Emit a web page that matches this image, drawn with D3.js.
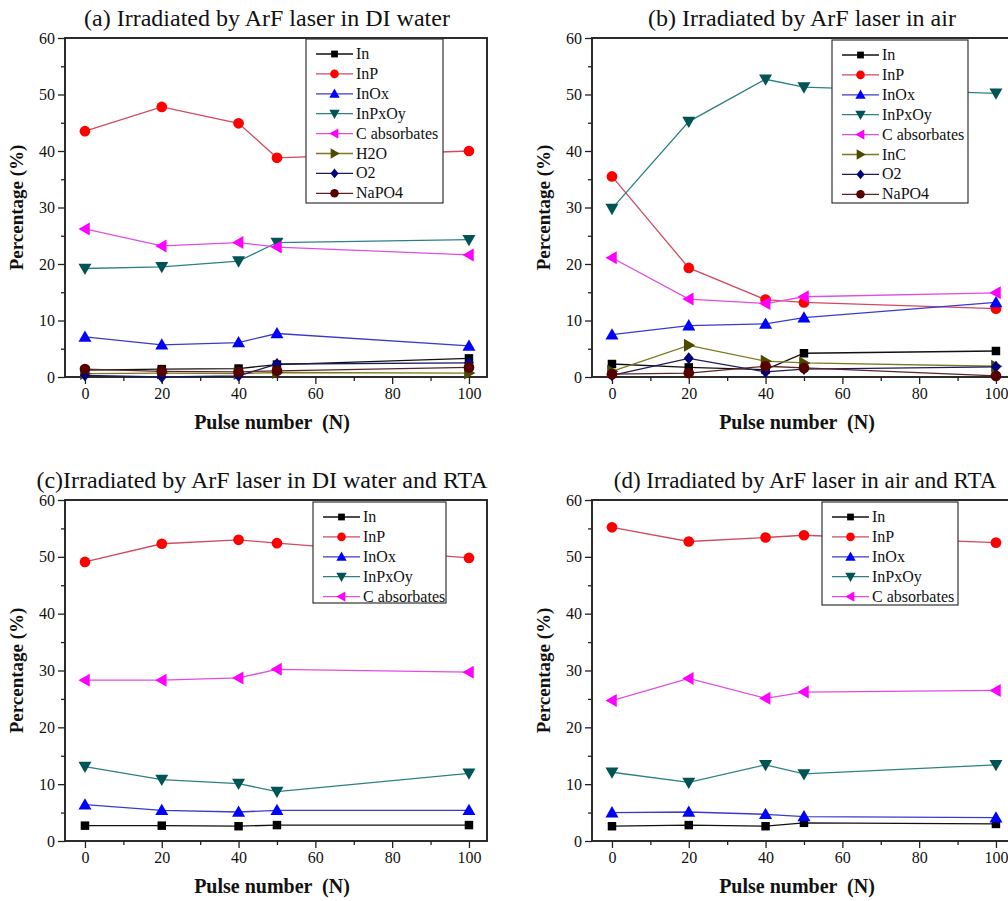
<!DOCTYPE html>
<html>
<head>
<meta charset="utf-8">
<script src="https://cdn.jsdelivr.net/npm/d3@7"></script>
<style>
  html, body { margin: 0; padding: 0; background: #fff; }
  svg text { font-family: 'Liberation Serif', 'Times New Roman', Times, serif; }
</style>
</head>
<body>
<svg id="chart" width="1008" height="901"></svg>
<script>
// Pulse numbers shared by all four panels
const pulses = [0, 20, 40, 50, 100];
const xTickValues = [0, 20, 40, 60, 80, 100];
const yTickValues = [0, 10, 20, 30, 40, 50, 60];

// (a) ArF laser in DI water
const aIn     = [1.2, 1.4, 1.5, 2.2, 3.3];
const aInP    = [43.5, 47.8, 44.9, 38.8, 40.0];
const aInOx   = [7.1, 5.7, 6.1, 7.7, 5.5];
const aInPxOy = [19.2, 19.5, 20.5, 23.8, 24.3];
const aCabs   = [26.2, 23.2, 23.8, 23.0, 21.6];
const aH2O    = [0.6, 0.7, 0.6, 0.8, 0.7];
const aO2     = [0.3, 0.0, 0.2, 2.3, 2.5];
const aNaPO4  = [1.4, 1.0, 0.9, 1.1, 1.7];

// (b) ArF laser in air
const bIn     = [2.3, 1.7, 1.3, 4.2, 4.6];
const bInP    = [35.5, 19.3, 13.7, 13.2, 12.1];
const bInOx   = [7.5, 9.1, 9.4, 10.5, 13.2];
const bInPxOy = [29.8, 45.2, 52.7, 51.3, 50.2];
const bCabs   = [21.1, 13.8, 13.0, 14.2, 14.9];
const bInC    = [1.0, 5.6, 2.8, 2.5, 1.9];
const bO2     = [0.3, 3.3, 0.9, 1.4, 1.8];
const bNaPO4  = [0.5, 0.7, 1.9, 1.6, 0.2];

// (c) ArF laser in DI water, then RTA
const cIn     = [2.7, 2.7, 2.6, 2.8, 2.8];
const cInP    = [49.1, 52.3, 53.0, 52.4, 49.8];
const cInOx   = [6.4, 5.4, 5.1, 5.4, 5.4];
const cInPxOy = [13.1, 10.8, 10.1, 8.7, 11.9];
const cCabs   = [28.3, 28.3, 28.7, 30.2, 29.7];

// (d) ArF laser in air, then RTA
const dIn     = [2.6, 2.8, 2.6, 3.2, 3.0];
const dInP    = [55.2, 52.7, 53.4, 53.8, 52.5];
const dInOx   = [5.0, 5.1, 4.7, 4.3, 4.1];
const dInPxOy = [12.1, 10.3, 13.4, 11.8, 13.4];
const dCabs   = [24.7, 28.6, 25.1, 26.2, 26.5];

const SERIF = "'Liberation Serif', 'Times New Roman', Times, serif";

// Marker / line styling per species
const styles = {
  "In":          { marker: "square",   fill: "#000000", line: "#111111" },
  "InP":         { marker: "circle",   fill: "#ff0000", line: "#d04a60" },
  "InOx":        { marker: "triUp",    fill: "#0000ff", line: "#3a3acc" },
  "InPxOy":      { marker: "triDown",  fill: "#005454", line: "#2e8080" },
  "C absorbates":{ marker: "triLeft",  fill: "#ff00ff", line: "#e04ee0" },
  "H2O":         { marker: "triRight", fill: "#4a4a00", line: "#7a7a20" },
  "InC":         { marker: "triRight", fill: "#4a4a00", line: "#7a7a20" },
  "O2":          { marker: "diamond",  fill: "#000080", line: "#1c1c5c" },
  "NaPO4":       { marker: "circle",   fill: "#560000", line: "#5c2424" }
};

const panels = [
  { title: "(a) Irradiated by ArF laser in DI water", left: 65, top: 38, right: 487, bottom: 377,
    titleX: 267, titleSize: 24, labelX: 272,
    legend: { x: 306, y: 39, w: 137, h: 164 },
    series: [["In", aIn], ["InP", aInP], ["InOx", aInOx], ["InPxOy", aInPxOy],
             ["C absorbates", aCabs], ["H2O", aH2O], ["O2", aO2], ["NaPO4", aNaPO4]] },
  { title: "(b) Irradiated by ArF laser in air", left: 592, top: 38, right: 1014, bottom: 377,
    titleX: 802, titleSize: 24, labelX: 797,
    legend: { x: 832, y: 40, w: 136, h: 163 },
    series: [["In", bIn], ["InP", bInP], ["InOx", bInOx], ["InPxOy", bInPxOy],
             ["C absorbates", bCabs], ["InC", bInC], ["O2", bO2], ["NaPO4", bNaPO4]] },
  { title: "(c)Irradiated by ArF laser in DI water and RTA", left: 65, top: 500, right: 487, bottom: 841,
    titleX: 262, titleSize: 24, labelX: 272,
    legend: { x: 313, y: 502, w: 133, h: 101 },
    series: [["In", cIn], ["InP", cInP], ["InOx", cInOx], ["InPxOy", cInPxOy], ["C absorbates", cCabs]] },
  { title: "(d) Irradiated by ArF laser in air and RTA", left: 592, top: 500, right: 1014, bottom: 841,
    titleX: 805, titleSize: 23, labelX: 797,
    legend: { x: 822, y: 502, w: 136, h: 103 },
    series: [["In", dIn], ["InP", dInP], ["InOx", dInOx], ["InPxOy", dInPxOy], ["C absorbates", dCabs]] }
];

const svg = d3.select("#chart");

function markerPath(kind) {
  switch (kind) {
    case "square":  return d3.symbol(d3.symbolSquare, 72)();
    case "circle":  return d3.symbol(d3.symbolCircle, 90)();
    case "diamond": return "M0,-6L5,0L0,6L-5,0Z";
    case "triUp":   return "M0,-6.5L6.5,4.8L-6.5,4.8Z";
    case "triDown": return "M0,6.5L6.5,-4.8L-6.5,-4.8Z";
    case "triLeft": return "M-6.5,0L4.8,-6.5L4.8,6.5Z";
    case "triRight":return "M6.5,0L-4.8,-6.5L-4.8,6.5Z";
  }
}

panels.forEach(p => {
  const g = svg.append("g");
  // x: data range padded ~5% on each side
  const x = d3.scaleLinear().domain([-5.2, 104.7]).range([p.left, p.right]);
  const y = d3.scaleLinear().domain([0, 60]).range([p.bottom, p.top]);

  // Minor ticks
  const xMinor = d3.axisBottom(x).tickValues([10, 30, 50, 70, 90]).tickSize(4).tickFormat("");
  const yMinor = d3.axisLeft(y).tickValues([5, 15, 25, 35, 45, 55]).tickSize(4).tickFormat("");
  g.append("g").attr("transform", `translate(0,${p.bottom})`).call(xMinor);
  g.append("g").attr("transform", `translate(${p.left},0)`).call(yMinor);

  const xAxis = d3.axisBottom(x).tickValues(xTickValues).tickSize(7).tickPadding(4);
  const yAxis = d3.axisLeft(y).tickValues(yTickValues).tickSize(7).tickPadding(3);
  const gx = g.append("g").attr("transform", `translate(0,${p.bottom})`).call(xAxis);
  const gy = g.append("g").attr("transform", `translate(${p.left},0)`).call(yAxis);

  g.selectAll(".domain").remove();
  g.selectAll("g").attr("font-family", SERIF);
  g.selectAll(".tick line").attr("stroke", "#222").attr("stroke-width", 1.3);
  [gx, gy].forEach(a => a.selectAll("text")
    .style("font-family", SERIF).attr("font-size", 16).attr("fill", "#111"));

  // Frame
  g.append("rect")
    .attr("x", p.left).attr("y", p.top)
    .attr("width", p.right - p.left).attr("height", p.bottom - p.top)
    .attr("fill", "none").attr("stroke", "#222").attr("stroke-width", 1.9);

  // Series lines and markers
  const line = d3.line().x((d, i) => x(pulses[i])).y(d => y(d));
  p.series.forEach(([name, vals]) => {
    const st = styles[name];
    g.append("path").datum(vals).attr("d", line)
      .attr("fill", "none").attr("stroke", st.line).attr("stroke-width", 1.3);
    g.selectAll(null).data(vals).enter().append("path")
      .attr("d", markerPath(st.marker))
      .attr("transform", (d, i) => `translate(${x(pulses[i])},${y(d)})`)
      .attr("fill", st.fill);
  });

  // Legend box
  const L = p.legend;
  const lg = g.append("g");
  lg.append("rect").attr("x", L.x).attr("y", L.y).attr("width", L.w).attr("height", L.h)
    .attr("fill", "#fff").attr("stroke", "#333").attr("stroke-width", 1.2);
  const rowH = 19.9;
  p.series.forEach(([name], i) => {
    const st = styles[name];
    const cy = L.y + 15 + i * rowH;
    lg.append("line").attr("x1", L.x + 10).attr("x2", L.x + 47).attr("y1", cy).attr("y2", cy)
      .attr("stroke", st.line).attr("stroke-width", 1.3);
    lg.append("path").attr("d", markerPath(st.marker))
      .attr("transform", `translate(${L.x + 28.5},${cy}) scale(0.8)`).attr("fill", st.fill);
    lg.append("text").attr("x", L.x + 50).attr("y", cy + 5)
      .style("font-family", SERIF).attr("font-size", 16).attr("fill", "#111").text(name);
  });

  // Titles
  g.append("text").attr("x", p.titleX).attr("y", p.top - 12)
    .attr("text-anchor", "middle").style("font-family", SERIF)
    .attr("font-size", p.titleSize).attr("fill", "#111").text(p.title);
  g.append("text")
    .attr("transform", `translate(${p.left - 42},${(p.top + p.bottom) / 2}) rotate(-90)`)
    .attr("text-anchor", "middle").style("font-family", SERIF)
    .attr("font-size", 19).attr("font-weight", "bold")
    .attr("fill", "#111").text("Percentage (%)");
  g.append("text").attr("x", p.labelX).attr("y", p.bottom + 52)
    .attr("text-anchor", "middle").style("font-family", SERIF)
    .attr("font-size", 20).attr("font-weight", "bold")
    .attr("fill", "#111").style("white-space", "pre")
    .text("Pulse number  (N)");
});
</script>
</body>
</html>
